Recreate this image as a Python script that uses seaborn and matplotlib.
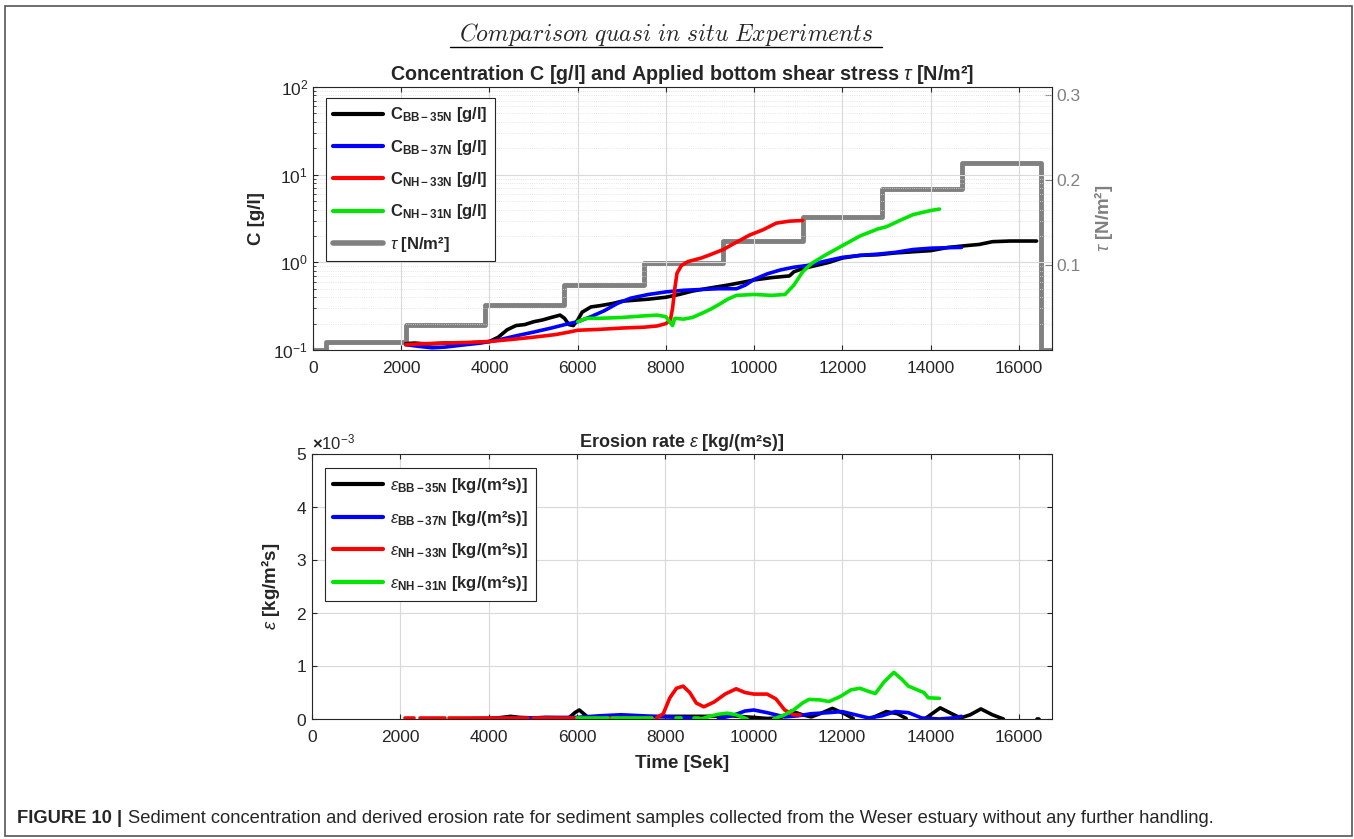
import numpy as np
import pandas as pd
import seaborn as sns
import matplotlib.pyplot as plt
from matplotlib.lines import Line2D
from matplotlib.patches import Rectangle
from matplotlib.ticker import ScalarFormatter

# --- datos ---
# concentracion C [g/l]
t_bb35 = [2100, 2300, 2600, 3000, 3400, 3800, 4000, 4200, 4400, 4600, 4800, 5000, 5200, 5400, 5600,
          5700, 5800, 5900, 6000, 6100, 6300, 6500, 6800, 7000, 7300, 7600, 8000, 8300, 8600, 9000,
          9400, 9800, 10000, 10400, 10800, 10900, 11100, 11400, 11700, 12000, 12400, 12800, 13200,
          13600, 14000, 14400, 14800, 15100, 15400, 15800, 16400]
c_bb35 = [0.118, 0.12, 0.117, 0.12, 0.12, 0.122, 0.125, 0.14, 0.17, 0.19, 0.195, 0.21, 0.22, 0.235, 0.25,
          0.23, 0.195, 0.19, 0.22, 0.27, 0.31, 0.32, 0.34, 0.36, 0.37, 0.38, 0.40, 0.43, 0.47, 0.51,
          0.55, 0.60, 0.63, 0.67, 0.70, 0.78, 0.85, 0.92, 1.0, 1.12, 1.2, 1.22, 1.28,
          1.32, 1.36, 1.48, 1.55, 1.6, 1.72, 1.75, 1.75]

t_bb37 = [2100, 2400, 2700, 3000, 3400, 3800, 4200, 4600, 5000, 5400, 5800, 6000, 6300, 6600, 6900,
          7200, 7600, 8000, 8400, 8800, 9200, 9600, 9800, 10000, 10300, 10600, 10900, 11200, 11600,
          12000, 12400, 12800, 13200, 13600, 14000, 14400, 14700]
c_bb37 = [0.115, 0.11, 0.106, 0.108, 0.114, 0.12, 0.13, 0.145, 0.16, 0.178, 0.2, 0.21, 0.24, 0.28, 0.34,
          0.39, 0.43, 0.46, 0.48, 0.49, 0.50, 0.50, 0.55, 0.64, 0.74, 0.82, 0.88, 0.92, 1.03,
          1.14, 1.2, 1.24, 1.3, 1.4, 1.45, 1.47, 1.48]

t_nh33 = [2100, 2500, 3000, 3500, 4000, 4500, 5000, 5500, 5800, 6000, 6500, 7000, 7500, 7800, 8000,
          8100, 8150, 8200, 8250, 8350, 8500, 8800, 9000, 9300, 9600, 9900, 10200, 10500, 10800, 11100]
c_nh33 = [0.115, 0.118, 0.12, 0.122, 0.125, 0.132, 0.14, 0.15, 0.16, 0.168, 0.172, 0.178, 0.182, 0.188, 0.2,
          0.22, 0.3, 0.5, 0.75, 0.92, 1.02, 1.12, 1.22, 1.4, 1.7, 2.05, 2.35, 2.8, 2.95, 3.0]

t_nh31 = [6000, 6200, 6500, 7000, 7500, 7800, 8000, 8050, 8150, 8200, 8400, 8600, 8800, 9000, 9200,
          9400, 9600, 10000, 10400, 10700, 10900, 11100, 11300, 11600, 12000, 12400, 12800, 13000,
          13300, 13600, 14000, 14200]
c_nh31 = [0.21, 0.23, 0.23, 0.235, 0.245, 0.25, 0.24, 0.22, 0.19, 0.23, 0.225, 0.235, 0.26, 0.29, 0.33,
          0.38, 0.42, 0.43, 0.42, 0.43, 0.55, 0.78, 0.97, 1.2, 1.55, 2.0, 2.4, 2.55,
          3.0, 3.5, 3.9, 4.05]

# esfuerzo cortante aplicado tau [N/m2]
t_tau = [0, 300, 2100, 3900, 5700, 7500, 9300, 11100, 12900, 14700, 16500, 16750]
v_tau = [0, 0.01, 0.03, 0.053, 0.077, 0.102, 0.128, 0.157, 0.19, 0.221, 0, 0]

# tasa de erosion [1e-3 kg/(m2 s)], None = hueco (valores negativos)
te_bb35 = [3900, 4200, 4500, 4700, 5000, 5300, 5600, 5800, 5950, 6050, 6250, 6500, 7000, 7500, 8000,
           8500, 9000, 9500, 10000, 10300, 10600, 10850, 11100, 11300, 11500, 11780, 12050, 12250, None,
           12700, 13000, 13250, 13450, None, 13900, 14220, 14480, 14680, 14900, 15140, 15400, 15650,
           None, 16400, 16460]
e_bb35 = [0.0, 0.02, 0.05, 0.03, 0.02, 0.03, 0.02, 0.01, 0.12, 0.17, 0.03, 0.02, 0.03, 0.04, 0.05,
          0.05, 0.05, 0.06, 0.03, 0.01, 0.02, 0.15, 0.08, 0.04, 0.1, 0.2, 0.1, 0.01, None,
          0.03, 0.14, 0.1, 0.01, None, 0.02, 0.21, 0.1, 0.02, 0.08, 0.19, 0.08, 0.0,
          None, 0.0, 0.0]

te_bb37 = [3300, 3800, 4500, 5000, 5500, 6000, 6500, 7000, 7500, 8000, 8400, 8700, None, 9200, 9500,
           9800, 10000, 10300, 10700, 11000, 11300, 11700, 12000, 12300, 12600, 12900, 13200, 13500,
           13800, 14200, 14500, 14700]
e_bb37 = [0.0, 0.01, 0.02, 0.02, 0.03, 0.03, 0.06, 0.08, 0.06, 0.04, 0.03, 0.01, None, 0.01, 0.06,
          0.15, 0.17, 0.12, 0.04, 0.06, 0.1, 0.12, 0.14, 0.08, 0.02, 0.06, 0.14, 0.12,
          0.02, 0.0, 0.02, 0.05]

te_nh33 = [2100, 2300, None, 2450, 3000, None, 3100, 4900, None, 5000, 6000, None, 6400, 6500, None,
           6650, 7700, None, 7800, 7950, 8100, 8250, 8400, 8550, 8700, 8870, 9100, 9350, 9600, 9800,
           10000, 10300, 10500, 10700, 10900, 11050]
e_nh33 = [0.01, 0.01, None, 0.01, 0.01, None, 0.01, 0.01, None, 0.01, 0.01, None, 0.02, 0.02, None,
          0.01, 0.01, None, 0.02, 0.1, 0.4, 0.58, 0.62, 0.5, 0.3, 0.23, 0.32, 0.47, 0.57, 0.5,
          0.47, 0.47, 0.38, 0.17, 0.08, 0.075]

te_nh31 = [6000, 6700, None, 6800, 7700, None, 8250, 8350, None, 8650, 8750, None, 8800, 9000, 9200,
           9400, 9600, 9850, None, 10450, 10700, 10900, 11100, 11250, 11500, 11700, 11950, 12200, 12400,
           12600, 12750, 12950, 13170, 13350, 13500, 13700, 13850, 13950, 14200]
e_nh31 = [0.02, 0.02, None, 0.01, 0.01, None, 0.01, 0.01, None, 0.01, 0.01, None, 0.0, 0.05, 0.09,
          0.11, 0.08, 0.0, None, 0.0, 0.08, 0.17, 0.3, 0.37, 0.36, 0.33, 0.42, 0.55, 0.58,
          0.52, 0.48, 0.7, 0.88, 0.75, 0.62, 0.55, 0.5, 0.4, 0.39]

muestras = ['BB-35N', 'BB-37N', 'NH-33N', 'NH-31N']
colores = ['#000000', '#0000ff', '#ff0000', '#00e600']


def tramos(t, v):
    """Convierte listas con huecos (None) en un DataFrame con id de tramo."""
    df = pd.DataFrame({'t': t, 'v': v}, dtype=float)
    df['tramo'] = df['v'].isna().cumsum()
    return df.dropna()


sns.set_style('ticks')
plt.rcParams['font.family'] = ['Liberation Sans', 'DejaVu Sans']
plt.rcParams['mathtext.fontset'] = 'custom'
plt.rcParams['mathtext.rm'] = 'Liberation Sans:bold'
plt.rcParams['mathtext.bf'] = 'Liberation Sans:bold'
plt.rcParams['mathtext.it'] = 'Liberation Sans:italic'
plt.rcParams['mathtext.sf'] = 'Liberation Sans:bold'
plt.rcParams['axes.edgecolor'] = '#262626'
plt.rcParams['xtick.color'] = '#262626'
plt.rcParams['ytick.color'] = '#262626'

W, H = 1354, 839
fig = plt.figure(figsize=(W / 100, H / 100), dpi=100)
fig.patch.set_facecolor('white')

# marco exterior
fig.add_artist(Rectangle((5 / W, 1 - 836 / H), 1347 / W, 830 / H, transform=fig.transFigure,
                         fill=False, edgecolor='#555555', lw=1.2))

# titulo general (cursiva tipo LaTeX, subrayado)
fig.text(666 / W, 1 - 34 / H, r'$\it{Comparison\ quasi\ in\ situ\ Experiments}$',
         math_fontfamily='cm', fontsize=17, ha='center', va='center')
fig.add_artist(Line2D([450 / W, 882 / W], [1 - 47 / H, 1 - 47 / H], transform=fig.transFigure,
                      color='black', lw=1))

# 1. CONCENTRACION Y TAU
ax_c = fig.add_axes([313 / W, 1 - 350 / H, (1052 - 313) / W, (350 - 87) / H])
ax_t = ax_c.twinx()
ax_c.set_zorder(ax_t.get_zorder() + 1)
ax_c.patch.set_visible(False)

sns.lineplot(x=t_tau, y=v_tau, ax=ax_t, color='#808080', lw=3.5, drawstyle='steps-post',
             legend=False)
for nombre, col, tt, cc in zip(muestras, colores, [t_bb35, t_bb37, t_nh33, t_nh31],
                               [c_bb35, c_bb37, c_nh33, c_nh31]):
    sns.lineplot(x=tt, y=cc, ax=ax_c, color=col, lw=2.6, legend=False)

ax_c.set_yscale('log')
ax_c.set_ylim(0.1, 100)
ax_c.set_xlim(0, 16750)
ax_t.set_ylim(0, 0.31)
ax_t.set_xlim(0, 16750)
ax_c.set_xticks(range(0, 16001, 2000))
ax_t.set_yticks([0.1, 0.2, 0.3])
ax_c.grid(True, which='major', color='#d9d9d9', lw=0.8)
ax_c.grid(True, which='minor', axis='y', color='#dedede', lw=0.6, ls=':')
ax_c.tick_params(axis='both', which='both', direction='in', labelsize=12.5, top=True)
ax_c.tick_params(axis='x', pad=8)
ax_c.tick_params(axis='y', which='both', right=False)
ax_t.tick_params(axis='y', direction='in', colors='#808080', labelsize=12.5, length=5)
ax_t.spines['right'].set_color('#808080')
for s in ['top', 'left', 'bottom']:
    ax_t.spines[s].set_visible(False)

ax_c.set_title(r'Concentration C [g/l] and Applied bottom shear stress $\tau$ [N/m²]',
               fontweight='bold', fontsize=14.2, pad=5)
ax_c.set_ylabel('C [g/l]', fontweight='bold', fontsize=13.5, labelpad=6)
ax_t.set_ylabel(r'$\tau$ [N/m²]', fontweight='bold', fontsize=13.5, color='#808080', labelpad=8)

h_c = [Line2D([], [], color=c, lw=3) for c in colores] + [Line2D([], [], color='#808080', lw=4)]
l_c = [r'C$_{\mathbf{%s}}$ [g/l]' % m for m in muestras] + [r'$\tau$ [N/m²]']
leg = ax_c.legend(h_c, l_c, loc='upper left', bbox_to_anchor=(0.006, 0.99), fancybox=False,
                  edgecolor='#262626', framealpha=1, handlelength=3.0, handletextpad=0.4,
                  labelspacing=0.8, borderpad=0.45, prop={'weight': 'bold', 'size': 12})
leg.get_frame().set_linewidth(0.8)

# 2. TASA DE EROSION
ax_e = fig.add_axes([312 / W, 1 - 719 / H, (1052 - 312) / W, (719 - 454) / H])
for nombre, col, tt, ee in zip(muestras, colores, [te_bb35, te_bb37, te_nh33, te_nh31],
                               [e_bb35, e_bb37, e_nh33, e_nh31]):
    d = tramos(tt, ee)
    d['v'] = d['v'] * 1e-3
    sns.lineplot(data=d, x='t', y='v', units='tramo', estimator=None, sort=False, ax=ax_e,
                 color=col, lw=2.6, legend=False)

ax_e.set_xlim(0, 16750)
ax_e.set_ylim(0, 5e-3)
ax_e.set_xticks(range(0, 16001, 2000))
ax_e.set_yticks(np.arange(0, 5.1e-3, 1e-3))
fmt = ScalarFormatter(useMathText=True)
fmt.set_powerlimits((-2, 2))
ax_e.yaxis.set_major_formatter(fmt)
ax_e.yaxis.get_offset_text().set_fontsize(12)
ax_e.grid(True, which='major', color='#d9d9d9', lw=0.8)
ax_e.tick_params(axis='both', direction='in', labelsize=12.5, top=True, right=True)
ax_e.tick_params(axis='x', pad=8)
ax_e.set_title(r'Erosion rate $\epsilon$ [kg/(m²s)]', fontweight='bold', fontsize=13, pad=5)
ax_e.set_xlabel('Time [Sek]', fontweight='bold', fontsize=13.5, labelpad=7)
ax_e.set_ylabel(r'$\epsilon$ [kg/m²s]', fontweight='bold', fontsize=13.5, labelpad=10)

h_e = [Line2D([], [], color=c, lw=3) for c in colores]
l_e = [r'$\epsilon_{\mathbf{%s}}$ [kg/(m²s)]' % m for m in muestras]
leg2 = ax_e.legend(h_e, l_e, loc='upper left', bbox_to_anchor=(0.006, 0.98), fancybox=False,
                   edgecolor='#262626', framealpha=1, handlelength=3.0, handletextpad=0.4,
                   labelspacing=0.82, borderpad=0.5, prop={'weight': 'bold', 'size': 12})
leg2.get_frame().set_linewidth(0.8)

# pie de figura
t1 = fig.text(17 / W, 1 - 823 / H, 'FIGURE 10 |', fontweight='bold', fontsize=13.2,
              ha='left', va='baseline')
ax_e.annotate('Sediment concentration and derived erosion rate for sediment samples collected '
              'from the Weser estuary without any further handling.',
              xy=(1, 0), xycoords=t1, xytext=(4, 0), textcoords='offset points',
              fontsize=13.2, ha='left', va='bottom', annotation_clip=False)

fig.savefig('out.png', dpi=100)
plt.close(fig)
